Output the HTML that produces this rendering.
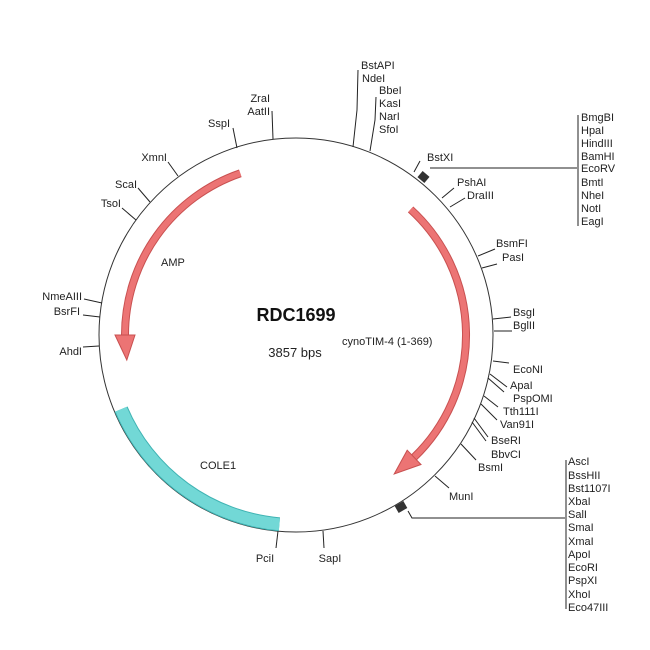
<!DOCTYPE html>
<html><head><meta charset="utf-8"><style>
html,body{margin:0;padding:0;background:#fff;}
svg{display:block;}
text{font-family:"Liberation Sans",Arial,sans-serif;font-size:11px;fill:#222;}
</style></head><body>
<svg width="650" height="650" viewBox="0 0 650 650" xmlns="http://www.w3.org/2000/svg">
<rect width="650" height="650" fill="#fff"/>
<circle cx="296" cy="335" r="197" fill="none" stroke="#333" stroke-width="1"/>
<!-- COLE1 -->
<path d="M121.1,409.2 A190,190 0 0 0 279.4,524.3" fill="none" stroke="#3fb3b3" stroke-width="14"/>
<path d="M121.1,409.2 A190,190 0 0 0 279.4,524.3" fill="none" stroke="#72d8d6" stroke-width="12"/>
<!-- AMP -->
<path d="M240.3,173.3 A171,171 0 0 0 125,335" fill="none" stroke="#c85050" stroke-width="8"/>
<path d="M240.3,173.3 A171,171 0 0 0 125,335" fill="none" stroke="#ec7474" stroke-width="6"/>
<polygon points="135,335 115,335 126.8,360" fill="#ec7474" stroke="#c85050" stroke-width="1"/>
<!-- cynoTIM -->
<path d="M410.6,209.4 A170,170 0 0 1 414.1,457.3" fill="none" stroke="#c85050" stroke-width="8"/>
<path d="M410.6,209.4 A170,170 0 0 1 414.1,457.3" fill="none" stroke="#ec7474" stroke-width="6"/>
<polygon points="407.2,450.2 421,464.5 394.2,474" fill="#ec7474" stroke="#c85050" stroke-width="1"/>

<g stroke="#222" stroke-width="1" fill="none">
<polyline points="358,70 357,110 353,147"/>
<polyline points="376,97 375,120 370,151"/>
<line x1="272" y1="111" x2="273" y2="139"/>
<line x1="233" y1="128" x2="237" y2="148"/>
<line x1="168" y1="162" x2="178" y2="176"/>
<line x1="138" y1="188" x2="150" y2="202"/>
<line x1="122" y1="208" x2="136" y2="220"/>
<line x1="84" y1="299" x2="102" y2="303"/>
<line x1="83" y1="315" x2="100" y2="317"/>
<line x1="83" y1="347" x2="99" y2="346"/>
<line x1="278" y1="531" x2="276" y2="548"/>
<line x1="323" y1="531" x2="324" y2="548"/>
<line x1="414" y1="172" x2="420" y2="161"/>
<line x1="442" y1="198" x2="454" y2="188"/>
<line x1="450" y1="207" x2="465" y2="198"/>
<line x1="478" y1="256" x2="495" y2="249"/>
<line x1="482" y1="268" x2="497" y2="264"/>
<line x1="493" y1="319" x2="511" y2="317"/>
<line x1="494" y1="331" x2="512" y2="331"/>
<line x1="493" y1="361" x2="509" y2="363"/>
<line x1="490" y1="374" x2="507" y2="387"/>
<line x1="488" y1="378" x2="504" y2="392"/>
<line x1="484" y1="396" x2="498" y2="407"/>
<line x1="481" y1="404" x2="497" y2="420"/>
<line x1="474" y1="418" x2="488" y2="437"/>
<line x1="472" y1="422" x2="486" y2="441"/>
<line x1="461" y1="444" x2="476" y2="460"/>
<line x1="435" y1="476" x2="449" y2="488"/>
<!-- cluster 1 -->
<polyline points="430,168 577,168"/>
<line x1="578" y1="115" x2="578" y2="226"/>
<!-- cluster 2 -->
<polyline points="408,511 412,518 565,518"/>
<line x1="566" y1="460" x2="566" y2="609"/>
</g>
<rect x="419" y="173" width="9" height="8" fill="#333" transform="rotate(40 423.5 177)"/>
<rect x="396" y="503" width="10" height="8" fill="#333" transform="rotate(-30 401 507)"/>

<text x="361" y="69">BstAPI</text>
<text x="362" y="82">NdeI</text>
<text x="379" y="94">BbeI</text>
<text x="379" y="107">KasI</text>
<text x="379" y="120">NarI</text>
<text x="379" y="133">SfoI</text>
<text x="270" y="102" text-anchor="end">ZraI</text>
<text x="270" y="115" text-anchor="end">AatII</text>
<text x="230" y="127" text-anchor="end">SspI</text>
<text x="167" y="161" text-anchor="end">XmnI</text>
<text x="137" y="188" text-anchor="end">ScaI</text>
<text x="121" y="207" text-anchor="end">TsoI</text>
<text x="82" y="300" text-anchor="end">NmeAIII</text>
<text x="80" y="315" text-anchor="end">BsrFI</text>
<text x="82" y="355" text-anchor="end">AhdI</text>
<text x="265" y="562" text-anchor="middle">PciI</text>
<text x="330" y="562" text-anchor="middle">SapI</text>
<text x="427" y="161">BstXI</text>
<text x="457" y="186">PshAI</text>
<text x="467" y="199">DraIII</text>
<text x="496" y="247">BsmFI</text>
<text x="502" y="261">PasI</text>
<text x="513" y="316">BsgI</text>
<text x="513" y="329">BglII</text>
<text x="513" y="373">EcoNI</text>
<text x="510" y="389">ApaI</text>
<text x="513" y="402">PspOMI</text>
<text x="503" y="415">Tth111I</text>
<text x="500" y="428">Van91I</text>
<text x="491" y="444">BseRI</text>
<text x="491" y="458">BbvCI</text>
<text x="478" y="471">BsmI</text>
<text x="449" y="500">MunI</text>
<g>
<text x="581" y="121">BmgBI</text>
<text x="581" y="134">HpaI</text>
<text x="581" y="147">HindIII</text>
<text x="581" y="160">BamHI</text>
<text x="581" y="172">EcoRV</text>
<text x="581" y="186">BmtI</text>
<text x="581" y="199">NheI</text>
<text x="581" y="212">NotI</text>
<text x="581" y="225">EagI</text>
</g>
<g>
<text x="568" y="465">AscI</text>
<text x="568" y="479">BssHII</text>
<text x="568" y="492">Bst1107I</text>
<text x="568" y="505">XbaI</text>
<text x="568" y="518">SalI</text>
<text x="568" y="531">SmaI</text>
<text x="568" y="545">XmaI</text>
<text x="568" y="558">ApoI</text>
<text x="568" y="571">EcoRI</text>
<text x="568" y="584">PspXI</text>
<text x="568" y="598">XhoI</text>
<text x="568" y="611">Eco47III</text>
</g>
<text x="296" y="321" text-anchor="middle" style="font-size:18px;font-weight:bold;fill:#111">RDC1699</text>
<text x="295" y="357" text-anchor="middle" style="font-size:13px">3857 bps</text>
<text x="342" y="345">cynoTIM-4 (1-369)</text>
<text x="161" y="266">AMP</text>
<text x="200" y="469">COLE1</text>
</svg>
</body></html>
